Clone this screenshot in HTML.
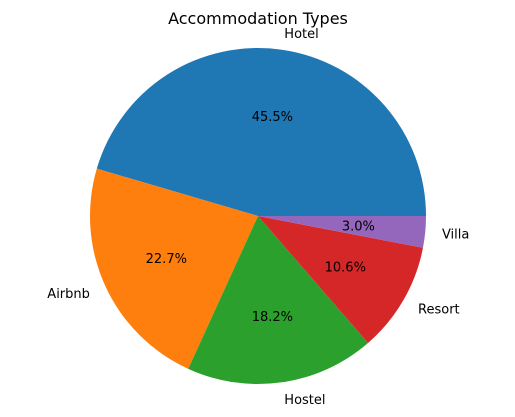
<!DOCTYPE html>
<html><head><meta charset="utf-8"><style>
body{margin:0;background:#fff;}
svg{display:block;font-family:"DejaVu Sans","Liberation Sans",sans-serif;}
</style></head><body>
<svg id="chart" width="515" height="417">
<text x="258" y="24" text-anchor="middle" font-size="16">Accommodation Types</text>
</svg>
<script>
const categories = ["Hotel","Airbnb","Hostel","Resort","Villa"];
const values = [15, 7.5, 6, 3.5, 1];
const colors = ["#1f77b4","#ff7f0e","#2ca02c","#d62728","#9467bd"];
const svg = document.getElementById('chart');
const NS = "http://www.w3.org/2000/svg";
const cx = 258, cy = 216, r = 168;
const total = values.reduce((a,b)=>a+b,0);
let a0 = 0;
function pt(a, rr){ return [cx + rr*Math.cos(a), cy - rr*Math.sin(a)]; }
values.forEach((v,i)=>{
  const frac = v/total;
  const a1 = a0 + frac*2*Math.PI;
  const [x0,y0] = pt(a0,r), [x1,y1] = pt(a1,r);
  const large = frac > 0.5 ? 1 : 0;
  const p = document.createElementNS(NS,'path');
  p.setAttribute('d',`M${cx},${cy} L${x0},${y0} A${r},${r} 0 ${large} 0 ${x1},${y1} Z`);
  p.setAttribute('fill',colors[i]);
  
  
  svg.appendChild(p);
  const am = (a0+a1)/2;
  const [lx,ly] = pt(am, r*1.1);
  const t = document.createElementNS(NS,'text');
  t.setAttribute('x',lx); t.setAttribute('y',ly+5);
  t.setAttribute('font-size','13');
  t.setAttribute('text-anchor', Math.cos(am) >= 0 ? 'start' : 'end');
  t.textContent = categories[i];
  
  
  svg.appendChild(t);
  const [px,py] = pt(am, r*0.6);
  const q = document.createElementNS(NS,'text');
  q.setAttribute('x',px); q.setAttribute('y',py+5);
  q.setAttribute('font-size','13');
  q.setAttribute('text-anchor','middle');
  q.textContent = (frac*100).toFixed(1) + '%';
  
  
  svg.appendChild(q);
  a0 = a1;
});
</script>
</body></html>
